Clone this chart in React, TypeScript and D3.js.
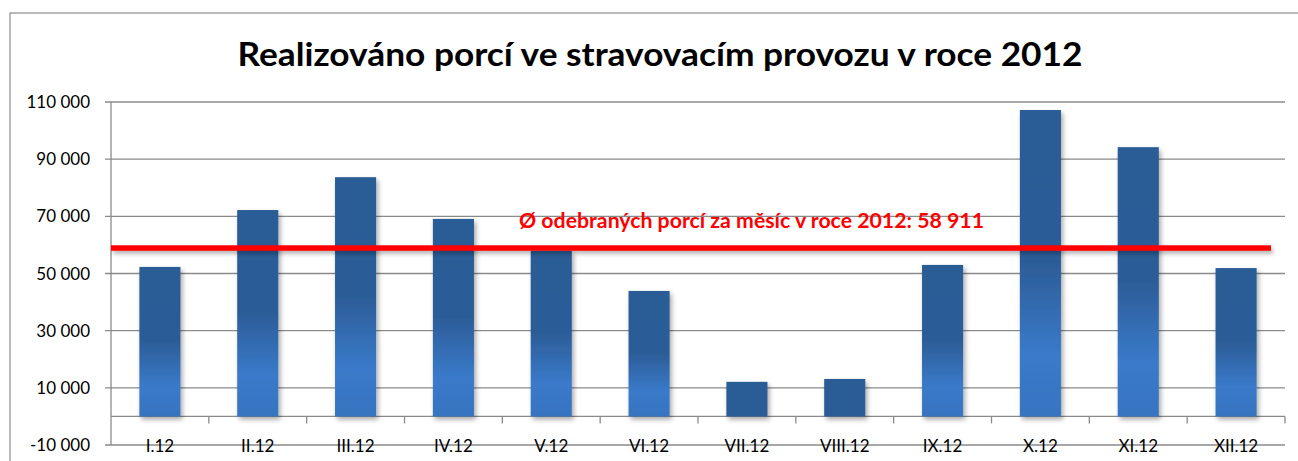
import React from "react";
import * as d3 from "d3";

const categories = ["I.12", "II.12", "III.12", "IV.12", "V.12", "VI.12", "VII.12", "VIII.12", "IX.12", "X.12", "XI.12", "XII.12"];
const values = [52300, 72200, 83700, 69100, 58000, 43900, 12100, 13100, 53000, 107200, 94200, 51900];
const yTicks = [-10000, 10000, 30000, 50000, 70000, 90000, 110000];
const average = 58911;
const title = "Realizováno porcí ve stravovacím provozu v roce 2012";
const avgLabel = "Ø odebraných porcí za měsíc v roce 2012:  58 911";

const W = 1298;
const H = 461;
const left = 111;
const right = 1285;
const top = 102;
const bottom = 445;

export default function App() {
  const x = d3.scaleBand<string>().domain(categories).range([left, right]).paddingInner(0.58).paddingOuter(0.29);
  const xb = d3.scaleBand<string>().domain(categories).range([left, right]);
  const y = d3.scaleLinear().domain([-10000, 110000]).range([bottom, top]);
  const y0 = y(0);
  const fmt = (v: number) => d3.format(",")(v).replace(/,/g, " ").replace("\u2212", "-");
  const font = "Lato, 'Open Sans', sans-serif";
  const avgY = y(average);
  return (
    <svg width={W} height={H} style={{ position: "absolute", left: 0, top: 0, background: "#fff" }}>
      <defs>
        <linearGradient id="barGrad" x1="0" y1="0" x2="0" y2="1">
          <stop offset="0" stopColor="#2B5B95" />
          <stop offset="0.5" stopColor="#2C5D98" />
          <stop offset="0.8" stopColor="#3A7ACA" />
          <stop offset="1" stopColor="#3774C0" />
        </linearGradient>
        <filter id="shadow" x="-20%" y="-10%" width="150%" height="130%">
          <feDropShadow dx="2" dy="3" stdDeviation="2.5" floodColor="#000" floodOpacity="0.35" />
        </filter>
        <filter id="lineShadow" filterUnits="userSpaceOnUse" x="0" y="0" width={W} height={H}>
          <feDropShadow dx="2" dy="3" stdDeviation="2" floodColor="#000" floodOpacity="0.3" />
        </filter>
      </defs>
      <rect x={10} y={13} width={W + 10} height={H + 10} fill="#fff" stroke="#8c8c8c" strokeWidth={1.2} />
      <text x={660} y={66} textAnchor="middle" fontFamily={font} fontWeight="bold" fontSize={32} textLength={845} lengthAdjust="spacingAndGlyphs" fill="#000">
        {title}
      </text>
      {yTicks.map((t) => (
        <g key={t}>
          <line x1={left - 6} x2={right} y1={y(t)} y2={y(t)} stroke="#8a8a8a" strokeWidth={1.3} />
          <text x={90} y={y(t) + 6} textAnchor="end" fontFamily={font} fontSize={17} fill="#000">
            {fmt(t)}
          </text>
        </g>
      ))}
      <line x1={left} x2={left} y1={top} y2={bottom} stroke="#8a8a8a" strokeWidth={1.3} />
      <line x1={left} x2={right} y1={y0} y2={y0} stroke="#8a8a8a" strokeWidth={1.3} />
      {categories.map((c) => (
        <line key={"t" + c} x1={(xb(c) as number) + xb.bandwidth()} x2={(xb(c) as number) + xb.bandwidth()} y1={y0} y2={y0 + 7} stroke="#8a8a8a" strokeWidth={1.3} />
      ))}
      <g filter="url(#shadow)">
        {categories.map((c, i) => {
          const h = y0 - y(values[i]);
          return (
            <rect key={c} x={x(c)} y={y(values[i])} width={x.bandwidth()} height={h} fill={h < 60 ? "#2B5B95" : "url(#barGrad)"} />
          );
        })}
      </g>
      <rect x={left} y={avgY - 2.75} width={1271 - left} height={5.5} fill="#FF0000" filter="url(#lineShadow)" />
      <text x={519} y={228} fontFamily={font} fontWeight="bold" fontSize={20} fill="#FF0000" textLength={465} lengthAdjust="spacingAndGlyphs">
        {avgLabel}
      </text>
      {categories.map((c) => (
        <text key={"l" + c} x={(xb(c) as number) + xb.bandwidth() / 2} y={452} textAnchor="middle" fontFamily={font} fontSize={17} fill="#000">
          {c}
        </text>
      ))}
    </svg>
  );
}
